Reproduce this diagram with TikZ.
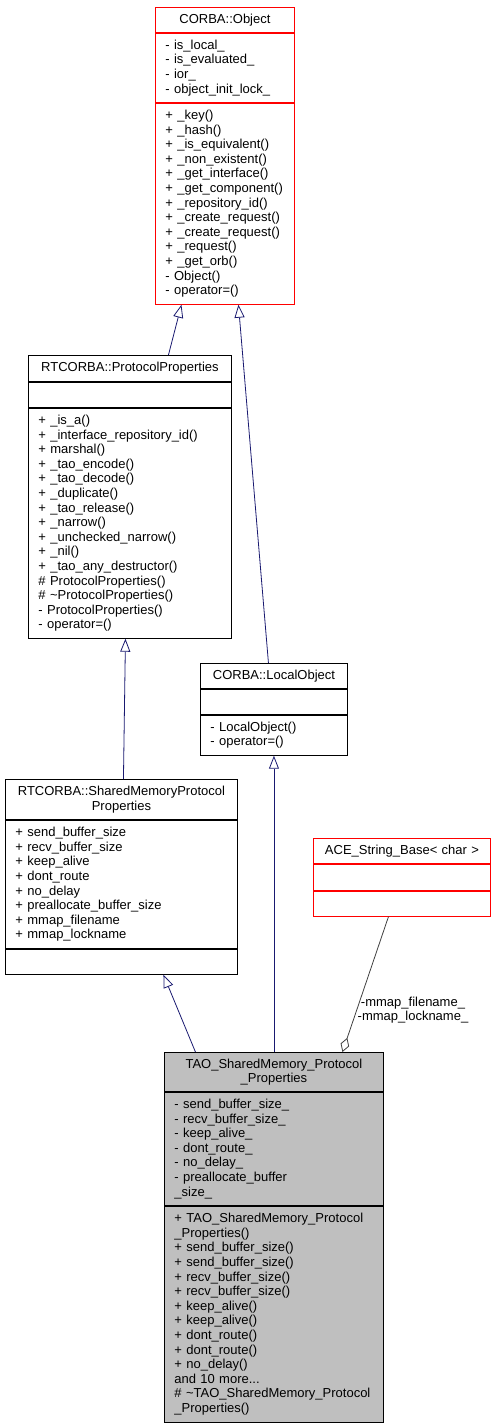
\documentclass[tikz,border=0pt]{standalone}
\usepackage{fontspec}
\setmainfont{Liberation Sans}
\usetikzlibrary{arrows.meta,positioning}
\definecolor{edgeblue}{RGB}{25,25,112}
\definecolor{agggray}{RGB}{64,64,64}
\definecolor{taogray}{RGB}{191,191,191}
\newcommand{\umlfont}{\fontsize{13}{14.6}\selectfont}
\tikzset{
  umlsec/.style={draw=#1, fill=white, line width=0.9pt, font=\umlfont,
                 inner xsep=10pt, inner ysep=0pt, align=left},
  umlsec/.default=black,
  umlhead/.style={umlsec=#1, align=center, anchor=north west},
  umlhead/.default=black,
  inherit/.style={draw=edgeblue, line width=0.8pt,
                  -{Triangle[length=13pt, width=10pt, fill=white]}},
  aggreg/.style={draw=agggray, line width=0.8pt,
                 -{Diamond[length=15pt, width=9pt, fill=white]}},
}
\begin{document}
\begin{tikzpicture}[x=1pt, y=-1pt]
\useasboundingbox (0,0) rectangle (495,1427);

% CORBA::Object
\node[umlhead=red, text width=119pt, minimum height=25pt] (objT) at (155,7) {CORBA::Object};
\node[umlsec=red, text width=119pt, minimum height=69pt, below=0pt of objT] (objA)
  {- is\_local\_\\- is\_evaluated\_\\- ior\_\\- object\_init\_lock\_};
\node[umlsec=red, text width=119pt, minimum height=201pt, below=0pt of objA] (objO)
  {+ \_key()\\+ \_hash()\\+ \_is\_equivalent()\\+ \_non\_existent()\\+ \_get\_interface()\\
   + \_get\_component()\\+ \_repository\_id()\\+ \_create\_request()\\+ \_create\_request()\\
   + \_request()\\+ \_get\_orb()\\- Object()\\- operator=()};

% RTCORBA::ProtocolProperties
\node[umlhead, text width=183pt, minimum height=26pt] (ppT) at (28,355) {RTCORBA::ProtocolProperties};
\node[umlsec, text width=183pt, minimum height=25pt, below=0pt of ppT] (ppA) {};
\node[umlsec, text width=183pt, minimum height=230pt, below=0pt of ppA] (ppO)
  {+ \_is\_a()\\+ \_interface\_repository\_id()\\+ marshal()\\+ \_tao\_encode()\\+ \_tao\_decode()\\
   + \_duplicate()\\+ \_tao\_release()\\+ \_narrow()\\+ \_unchecked\_narrow()\\+ \_nil()\\
   + \_tao\_any\_destructor()\\\# ProtocolProperties()\\\# \textasciitilde ProtocolProperties()\\
   - ProtocolProperties()\\- operator=()};

% CORBA::LocalObject
\node[umlhead, text width=127pt, minimum height=25pt] (loT) at (200,663) {CORBA::LocalObject};
\node[umlsec, text width=127pt, minimum height=25pt, below=0pt of loT] (loA) {};
\node[umlsec, text width=127pt, minimum height=40pt, below=0pt of loA] (loO)
  {- LocalObject()\\- operator=()};

% RTCORBA::SharedMemoryProtocolProperties
\node[umlhead, text width=212pt, minimum height=40pt] (smpT) at (5,779)
  {RTCORBA::SharedMemoryProtocol\\Properties};
\node[umlsec, text width=212pt, minimum height=128pt, below=0pt of smpT] (smpA)
  {+ send\_buffer\_size\\+ recv\_buffer\_size\\+ keep\_alive\\+ dont\_route\\+ no\_delay\\
   + preallocate\_buffer\_size\\+ mmap\_filename\\+ mmap\_lockname};
\node[umlsec, text width=212pt, minimum height=25pt, below=0pt of smpA] (smpO) {};

% ACE_String_Base< char >
\node[umlhead=red, text width=157pt, minimum height=25pt] (aceT) at (313,838) {ACE\_String\_Base< char >};
\node[umlsec=red, text width=157pt, minimum height=26pt, below=0pt of aceT] (aceA) {};
\node[umlsec=red, text width=157pt, minimum height=25pt, below=0pt of aceA] (aceO) {};

% TAO_SharedMemory_Protocol_Properties
\node[umlhead, fill=taogray, text width=199pt, minimum height=39pt] (taoT) at (164,1052)
  {TAO\_SharedMemory\_Protocol\\\_Properties};
\node[umlsec, fill=taogray, text width=199pt, minimum height=113pt, below=0pt of taoT] (taoA)
  {- send\_buffer\_size\_\\- recv\_buffer\_size\_\\- keep\_alive\_\\- dont\_route\_\\- no\_delay\_\\
   - preallocate\_buffer\\\_size\_};
\node[umlsec, fill=taogray, text width=199pt, minimum height=216pt, below=0pt of taoA] (taoO)
  {+ TAO\_SharedMemory\_Protocol\\\_Properties()\\+ send\_buffer\_size()\\+ send\_buffer\_size()\\
   + recv\_buffer\_size()\\+ recv\_buffer\_size()\\+ keep\_alive()\\+ keep\_alive()\\
   + dont\_route()\\+ dont\_route()\\+ no\_delay()\\and 10 more...\\
   \# \textasciitilde TAO\_SharedMemory\_Protocol\\\_Properties()};

% inheritance
\draw[inherit] ([xshift=38.5pt]ppT.north) -- ([xshift=-43.5pt]objO.south);
\draw[inherit] ([xshift=-5.5pt]loT.north) -- ([xshift=13.5pt]objO.south);
\draw[inherit] ([xshift=2pt]smpT.north) -- ([xshift=-4.5pt]ppO.south);
\draw[inherit] ([xshift=-78.5pt]taoT.north) -- ([xshift=42pt]smpO.south);
\draw[inherit] (taoT.north) -- (loO.south);

% aggregation
\draw[aggreg] ([xshift=-13.5pt]aceO.south) -- ([xshift=68.5pt]taoT.north);
\node[font=\umlfont, align=center] (aggLbl) at (413,1010) {-mmap\_filename\_\\-mmap\_lockname\_};

\end{tikzpicture}
\end{document}
